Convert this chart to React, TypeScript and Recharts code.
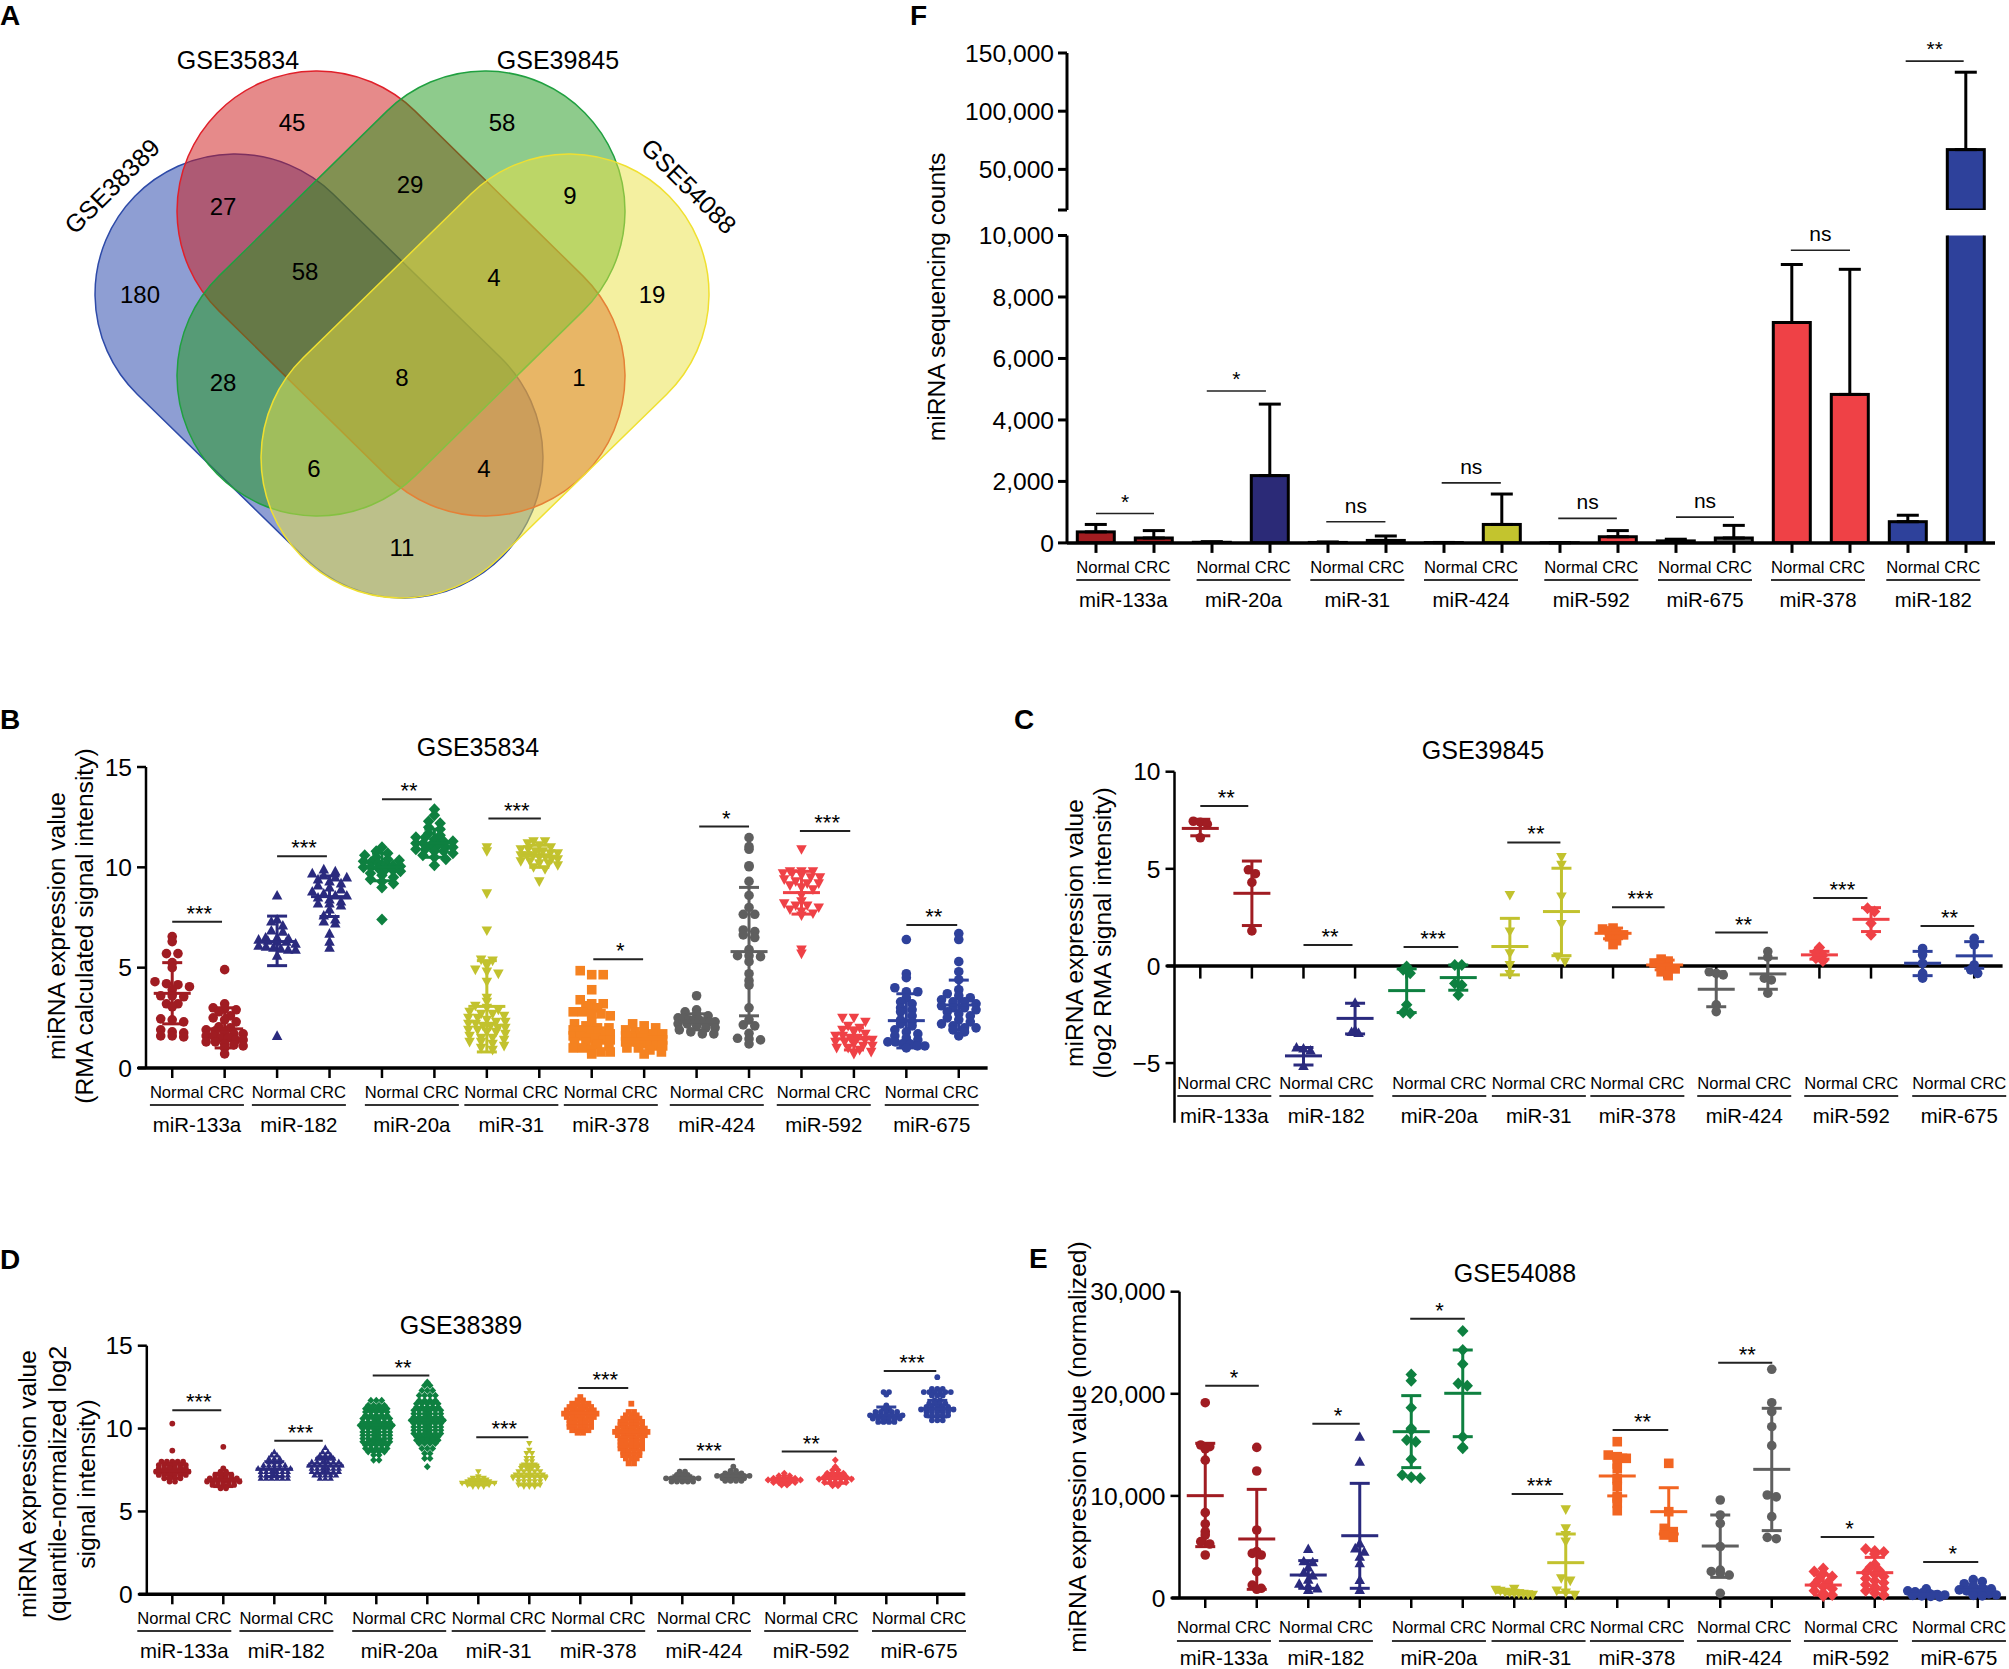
import React from 'react';
import { ScatterChart, ComposedChart, Scatter, Bar, XAxis, YAxis, ErrorBar, ReferenceLine, ReferenceDot } from 'recharts';

const W = 2009;
const H = 1669;
const FONT = '"Liberation Sans", Arial, sans-serif';

// ---------- shared ----------
const GROUPS_A = ['miR-133a', 'miR-182', 'miR-20a', 'miR-31', 'miR-378', 'miR-424', 'miR-592', 'miR-675'];
const GROUPS_F = ['miR-133a', 'miR-20a', 'miR-31', 'miR-424', 'miR-592', 'miR-675', 'miR-378', 'miR-182'];
const POSITIONS = [1, 2, 3, 4, 5, 6, 7, 8, 9, 10, 11, 12, 13, 14, 15, 16];
const COLORS = ['#a01c22', '#2a2a7e', '#0e8040', '#c2c22e', '#f26522', '#5f5f5f', '#ef4146', '#2e419b'];
const COLORS_B = ['#a01c22', '#2a2a7e', '#0e8040', '#c2c22e', '#f58220', '#5f5f5f', '#ef4146', '#2e419b'];
const MARKS_B = ['circle', 'up', 'diamond', 'down', 'square', 'circle', 'down', 'circle'];
const MARKS_OTHER = ['circle', 'up', 'diamond', 'down', 'square', 'circle', 'diamond', 'circle'];

// ---------- panel A ----------
const VENN_NAMES = ['GSE38389', 'GSE35834', 'GSE39845', 'GSE54088'];
const VENN_FILL = ['#1d3da7', '#cd1515', '#1d9719', '#e9e141'];
const VENN_STROKE = ['#2d4aa8', '#e0202a', '#20a040', '#f0e030'];
const VENN_START_X = [235, 317, 485, 569];
const VENN_START_Y = [294, 211, 211, 294];
const VENN_END_X = [403, 485, 317, 401];
const VENN_END_Y = [458, 376, 376, 458];
const VENN_COUNTS = ['45', '58', '27', '29', '9', '180', '58', '4', '19', '28', '8', '1', '6', '4', '11'];
const VENN_COUNT_X = [292, 502, 223, 410, 570, 140, 305, 494, 652, 223, 402, 579, 314, 484, 402];
const VENN_COUNT_Y = [122, 122, 206, 184, 195, 294, 271, 277, 294, 382, 377, 377, 468, 468, 547];

// ---------- panel B ----------
const B_VALUES = [
  [6.55, 6.3, 5.7, 5.7, 5.25, 5.0, 4.3, 4.2, 4.15, 4.05, 3.9, 3.6, 3.6, 3.55, 3.2, 3.2, 3.05, 2.45, 2.4, 2.3, 1.9, 1.8, 1.75, 1.6, 1.6, 1.55],
  [4.9, 3.2, 3.0, 2.95, 2.9, 2.8, 2.6, 2.5, 2.4, 2.3, 2.05, 2.0, 1.9, 1.85, 1.8, 1.7, 1.7, 1.6, 1.6, 1.5, 1.5, 1.4, 1.4, 1.3, 1.3, 1.2, 1.15, 1.1, 1.0, 0.7],
  [8.6, 7.4, 7.3, 7.1, 6.85, 6.8, 6.5, 6.5, 6.45, 6.4, 6.35, 6.3, 6.3, 6.2, 6.1, 6.05, 6.0, 5.95, 5.9, 5.9, 5.6, 1.6],
  [9.9, 9.8, 9.7, 9.6, 9.5, 9.5, 9.4, 9.3, 9.2, 9.1, 9.0, 8.9, 8.8, 8.7, 8.6, 8.6, 8.5, 8.4, 8.3, 8.2, 8.2, 8.1, 7.9, 7.6, 7.4, 7.3, 7.2, 6.7, 6.3, 6.0],
  [11.0, 10.8, 10.7, 10.6, 10.5, 10.4, 10.35, 10.3, 10.25, 10.2, 10.15, 10.1, 10.05, 10.0, 10.0, 9.95, 9.9, 9.85, 9.8, 9.7, 9.6, 9.5, 9.4, 9.3, 9.2, 9.0, 7.4],
  [12.9, 12.6, 12.3, 12.2, 12.0, 11.9, 11.7, 11.6, 11.5, 11.5, 11.4, 11.3, 11.3, 11.2, 11.2, 11.1, 11.1, 11.0, 11.0, 10.9, 10.9, 10.8, 10.8, 10.7, 10.6, 10.5, 10.4, 10.1],
  [11.0, 10.8, 8.7, 6.85, 5.4, 5.35, 5.1, 4.9, 4.8, 4.7, 4.3, 3.5, 3.3, 3.1, 3.0, 2.9, 2.8, 2.7, 2.7, 2.6, 2.5, 2.5, 2.4, 2.3, 2.3, 2.2, 2.2, 2.1, 2.1, 2.0, 2.0, 1.9, 1.9, 1.8, 1.8, 1.7, 1.6, 1.5, 1.5, 1.4, 1.3, 1.3, 1.2, 1.1, 1.0, 0.9],
  [11.3, 11.3, 11.2, 11.1, 11.0, 10.9, 10.9, 10.8, 10.8, 10.7, 10.7, 10.6, 10.6, 10.6, 10.5, 10.5, 10.4, 10.4, 10.3, 10.3, 10.2, 10.2, 10.1, 10.0, 9.9, 9.3],
  [4.85, 4.65, 4.65, 3.9, 3.4, 3.2, 3.2, 3.1, 3.0, 2.8, 2.8, 2.7, 2.7, 2.6, 2.3, 2.2, 2.1, 2.0, 2.0, 1.9, 1.9, 1.9, 1.8, 1.8, 1.7, 1.7, 1.6, 1.6, 1.5, 1.5, 1.4, 1.4, 1.3, 1.3, 1.2, 1.1, 1.0, 1.0, 0.9, 0.8, 0.8, 0.7],
  [2.2, 2.1, 2.0, 1.9, 1.8, 1.8, 1.7, 1.7, 1.6, 1.6, 1.5, 1.5, 1.5, 1.4, 1.4, 1.4, 1.3, 1.3, 1.3, 1.2, 1.2, 1.1, 1.1, 1.0, 1.0, 0.9, 0.8, 0.7],
  [3.6, 2.9, 2.8, 2.7, 2.6, 2.5, 2.5, 2.4, 2.4, 2.4, 2.3, 2.3, 2.3, 2.2, 2.2, 2.1, 2.0, 2.0, 1.9, 1.8, 1.7, 1.7],
  [11.48, 11.03, 10.9, 10.08, 10.03, 9.3, 8.6, 8.0, 7.66, 7.66, 6.88, 6.8, 6.63, 6.5, 5.9, 5.6, 5.6, 5.55, 5.3, 4.7, 4.35, 4.13, 3.0, 2.4, 2.15, 2.1, 1.73, 1.48, 1.45, 1.4, 1.2],
  [10.9, 9.8, 9.8, 9.8, 9.7, 9.7, 9.6, 9.5, 9.5, 9.4, 9.3, 9.2, 9.2, 9.1, 9.0, 8.9, 8.6, 8.3, 8.2, 8.1, 8.1, 8.0, 7.9, 7.8, 7.7, 7.6, 5.9, 5.7],
  [2.5, 2.5, 2.3, 2.1, 2.0, 1.9, 1.8, 1.7, 1.6, 1.6, 1.5, 1.5, 1.4, 1.4, 1.3, 1.3, 1.2, 1.1, 1.1, 1.0, 1.0, 0.9, 0.8, 0.7],
  [6.4, 4.7, 4.5, 4.0, 3.8, 3.8, 3.5, 3.3, 3.2, 3.0, 2.9, 2.8, 2.6, 2.4, 2.3, 2.2, 2.1, 1.9, 1.8, 1.7, 1.6, 1.5, 1.4, 1.3, 1.3, 1.2, 1.2, 1.1, 1.1, 1.0],
  [6.7, 6.4, 5.3, 4.8, 4.4, 3.9, 3.7, 3.6, 3.5, 3.4, 3.3, 3.3, 3.2, 3.1, 3.0, 3.0, 2.9, 2.8, 2.7, 2.6, 2.5, 2.4, 2.3, 2.2, 2.1, 2.0, 2.0, 1.9, 1.8, 1.6],
];
const B_MEAN = [3.72, 1.95, 6.3, 8.54, 10.0, 11.2, 3.07, 10.56, 2.0, 1.45, 2.3, 5.8, 8.74, 1.45, 2.36, 3.14];
const B_HIGH = [5.25, 3.0, 7.57, 9.57, 10.7, 11.9, 5.35, 11.1, 3.0, 1.8, 2.7, 9.0, 9.8, 2.0, 3.7, 4.38];
const B_LOW = [2.2, 1.0, 5.1, 7.55, 9.33, 10.5, 0.8, 10.0, 1.0, 1.1, 1.9, 2.6, 7.67, 0.9, 1.0, 1.9];
const B_SIG_START = [1, 3, 5, 7.03, 9.03, 11.05, 12.97, 15];
const B_SIG_END = [1.95, 3.95, 5.95, 8.03, 9.98, 12, 13.93, 15.97];
const B_SIG_Y = [7.29, 10.55, 13.39, 12.43, 5.42, 12.03, 11.81, 7.13];
const B_SIG_TEXT = ['***', '***', '**', '***', '*', '*', '***', '**'];
const B_SHIFT = [24.7, 21.8, 29.9, 24.5, 19.1, 20.2, 22.3, 25.4];

// ---------- panel C ----------
const C_VALUES = [
  [7.45, 7.4, 7.3, 6.6],
  [4.95, 4.75, 4.3, 1.8],
  [-4.2, -4.25, -4.35, -5.15],
  [-1.9, -3.3, -3.4, -3.45],
  [-0.03, -0.2, -0.38, -2.0, -2.4, -2.43],
  [0.05, 0.05, -0.9, -0.98, -1.5],
  [3.65, 1.77, 0.65, 0.05, -0.42],
  [5.6, 5.2, 3.57, 2.16, 0.48, 0.22],
  [1.95, 1.9, 1.8, 1.7, 1.6, 1.5, 1.3, 1.1],
  [0.35, 0.25, 0.15, 0.05, -0.05, -0.15, -0.3, -0.5],
  [-0.3, -0.38, -0.46, -2.0, -2.35],
  [0.74, 0.45, -0.63, -0.72, -1.4],
  [0.95, 0.7, 0.55, 0.4, 0.25],
  [2.97, 2.8, 2.2, 1.6],
  [0.9, 0.57, 0.14, -0.38, -0.63],
  [1.42, 1.08, 0.05, -0.2, -0.38],
];
const C_MEAN = [7.08, 3.74, -4.63, -2.7, -1.27, -0.6, 1.0, 2.8, 1.68, 0.05, -1.2, -0.41, 0.57, 2.4, 0.14, 0.52];
const C_HIGH = [7.55, 5.4, -4.2, -1.92, -0.15, 0.05, 2.45, 5.03, 1.95, 0.3, -0.3, 0.4, 0.75, 3.0, 0.75, 1.25];
const C_LOW = [6.7, 2.08, -5.1, -3.5, -2.4, -1.25, -0.46, 0.53, 1.4, -0.2, -2.1, -1.2, 0.35, 1.77, -0.5, -0.12];
const C_SIG_START = [1, 3, 4.94, 6.95, 8.98, 10.98, 12.88, 14.96];
const C_SIG_END = [1.93, 3.95, 6, 7.98, 10, 12, 13.93, 16];
const C_SIG_Y = [8.23, 1.08, 0.98, 6.36, 3.02, 1.72, 3.5, 2.06];
const C_SIG_TEXT = ['**', '**', '***', '**', '***', '**', '***', '**'];
const C_SHIFT = [24, 22.9, 32.6, 29, 24.3, 28, 31.8, 36.6];

// ---------- panel D (each row of a swarm: value, number of points) ----------
const D_ROWS = [
  [[10.3, 1], [8.67, 1], [8.0, 5], [7.8, 6], [7.6, 6], [7.4, 7], [7.2, 6], [7.0, 4], [6.8, 2]],
  [[8.9, 1], [7.6, 1], [7.4, 2], [7.2, 4], [7.0, 6], [6.8, 7], [6.6, 5], [6.4, 2]],
  [[8.6, 1], [8.4, 2], [8.2, 3], [8.0, 3], [7.8, 5], [7.6, 7], [7.4, 6], [7.2, 6], [7.0, 6]],
  [[8.85, 1], [8.6, 2], [8.4, 3], [8.2, 4], [8.0, 6], [7.8, 7], [7.6, 6], [7.4, 6], [7.2, 5], [7.0, 3]],
  [[11.7, 3], [11.4, 4], [11.2, 5], [11.0, 5], [10.8, 5], [10.6, 6], [10.4, 6], [10.2, 7], [10.0, 6], [9.8, 6], [9.6, 6], [9.4, 6], [9.2, 6], [9.0, 5], [8.8, 5], [8.6, 4], [8.4, 2], [8.1, 2]],
  [[12.8, 1], [12.6, 2], [12.3, 3], [12.0, 4], [11.7, 4], [11.5, 5], [11.3, 5], [11.1, 6], [10.9, 6], [10.7, 6], [10.5, 7], [10.3, 6], [10.1, 6], [9.9, 6], [9.7, 6], [9.5, 5], [9.3, 5], [9.1, 4], [8.8, 3], [8.5, 2], [8.2, 2], [7.7, 1]],
  [[7.4, 1], [7.1, 1], [7.0, 3], [6.9, 4], [6.8, 5], [6.7, 7], [6.6, 5], [6.5, 3]],
  [[9.1, 1], [8.7, 1], [8.5, 2], [8.2, 2], [8.0, 2], [7.8, 3], [7.6, 4], [7.4, 5], [7.2, 6], [7.0, 7], [6.8, 5], [6.6, 5], [6.5, 3]],
  [[11.9, 1], [11.7, 2], [11.5, 4], [11.3, 5], [11.1, 6], [10.9, 7], [10.7, 6], [10.5, 5], [10.3, 5], [10.1, 5], [9.9, 4], [9.75, 2]],
  [[11.5, 1], [11.0, 2], [10.8, 3], [10.6, 4], [10.4, 5], [10.2, 5], [10.0, 6], [9.8, 7], [9.6, 6], [9.4, 5], [9.2, 5], [9.0, 5], [8.8, 5], [8.6, 4], [8.4, 4], [8.2, 3], [7.9, 2]],
  [[7.4, 2], [7.2, 3], [7.0, 7], [6.8, 5]],
  [[7.7, 1], [7.45, 2], [7.3, 4], [7.15, 7], [7.0, 5], [6.85, 4]],
  [[7.3, 1], [7.15, 3], [7.0, 5], [6.9, 7], [6.75, 5], [6.6, 2]],
  [[8.1, 1], [7.7, 1], [7.5, 2], [7.3, 4], [7.1, 5], [6.95, 7], [6.75, 5], [6.55, 2]],
  [[12.2, 2], [12.05, 1], [11.4, 1], [11.2, 2], [11.0, 5], [10.8, 7], [10.6, 6], [10.4, 4]],
  [[13.1, 1], [12.4, 3], [12.2, 6], [12.0, 3], [11.7, 2], [11.5, 4], [11.3, 5], [11.15, 7], [11.0, 5], [10.8, 5], [10.5, 3]],
];
const D_MEAN = [7.46, 6.9, 7.55, 7.75, 10.2, 10.5, 6.74, 7.15, 10.93, 9.82, 7.0, 7.15, 6.9, 7.0, 10.82, 11.2];
const D_HIGH = [7.9, 7.3, 8.0, 8.2, 11.1, 11.6, 6.9, 7.8, 11.4, 10.6, 7.15, 7.3, 7.0, 7.3, 11.3, 11.7];
const D_LOW = [7.0, 6.5, 7.1, 7.3, 9.3, 9.4, 6.6, 6.6, 10.4, 9.0, 6.85, 7.0, 6.8, 6.7, 10.4, 10.7];
const D_SIG_START = [1, 3, 4.93, 6.96, 8.96, 10.94, 12.95, 14.95];
const D_SIG_END = [1.96, 3.95, 6.04, 7.98, 9.94, 12.03, 14.03, 15.98];
const D_SIG_Y = [11.1, 9.26, 13.2, 9.48, 12.45, 8.15, 8.61, 13.48];
const D_SIG_TEXT = ['***', '***', '**', '***', '***', '***', '**', '***'];
const D_SHIFT = [12, 12.1, 22.9, 20.4, 17.9, 21.7, 26.9, 32.7];

// ---------- panel E ----------
const E_VALUES = [
  [19130, 14985, 14820, 14600, 13500, 8360, 7250, 6500, 6170, 5520, 5290, 4210],
  [14750, 12440, 6660, 4540, 4370, 4210, 2580, 1270, 950, 850],
  [4800, 3600, 3500, 3000, 2500, 2200, 1800, 1400, 1200, 950, 800],
  [15800, 13350, 5350, 4860, 4540, 4050, 3400, 1760, 780],
  [21900, 21280, 18640, 16620, 16450, 15475, 15310, 13580, 12050, 11820, 11720],
  [26150, 24290, 22920, 21000, 20800, 15800, 14760, 14660],
  [900, 800, 700, 600, 550, 500, 450, 400, 350, 300],
  [8680, 6820, 6170, 5520, 1925, 1700, 720, 520, 300],
  [15310, 14000, 13840, 13680, 13120, 12700, 11720, 11560, 10900, 9925, 9760, 9270, 8550],
  [13190, 8455, 6820, 6500, 6170, 5940],
  [9600, 8130, 7310, 5030, 2740, 2600, 2450, 2250, 457],
  [22400, 19130, 18250, 16780, 14920, 10090, 9900, 7970, 5940, 5810],
  [2900, 2600, 2400, 2100, 1800, 1500, 1300, 1100, 900, 700, 500, 300, 200],
  [4800, 4600, 4500, 4300, 3300, 3000, 2700, 2500, 2300, 2100, 1900, 1700, 1500, 1300, 1100, 900, 700, 500, 300],
  [900, 700, 600, 500, 400, 350, 300, 250, 200, 150, 100],
  [1800, 1600, 1400, 1200, 1000, 900, 800, 700, 600, 500, 400, 300, 250, 200],
];
const E_MEAN = [10023, 5780, 2250, 6100, 16290, 20050, 555, 3460, 11950, 8455, 5090, 12600, 1270, 2480, 390, 780];
const E_HIGH = [15150, 10640, 3660, 11230, 19820, 24290, 700, 6270, 14000, 10800, 8130, 18580, 2250, 3980, 600, 1100];
const E_LOW = [5030, 850, 950, 950, 12770, 15800, 400, 555, 10000, 6270, 2020, 6600, 300, 850, 200, 400];
const E_SIG_START = [1, 3.08, 4.98, 6.95, 8.91, 10.96, 12.95, 14.94];
const E_SIG_END = [2.04, 4, 6.04, 7.95, 9.99, 12.01, 13.99, 16.01];
const E_SIG_Y = [20800, 17070, 27360, 10190, 16450, 23050, 5970, 3530];
const E_SIG_TEXT = ['*', '*', '*', '***', '**', '**', '*', '*'];
const E_SHIFT = [18.7, 17.7, 27.7, 24.3, 19.7, 23.7, 27.7, 32.7];

// ---------- panel F ----------
const F_MEAN = [358, 160, 20, 2190, 15, 80, 10, 600, 5, 200, 65, 160, 7170, 4830, 690, 67000];
const F_TOP = [600, 400, 40, 4515, 30, 225, 15, 1590, 10, 400, 120, 570, 9057, 8900, 900, 133500];
const F_FILL = ['#a31d21', '#a31d21', '#2b2a77', '#2b2a77', '#c3c42e', '#c3c42e', '#c3c42e', '#c3c42e', '#ef4146', '#ef4146', '#5f5f5f', '#5f5f5f', '#ef4146', '#ef4146', '#2e419b', '#2e419b'];
const F_SIG_START = [1, 2.91, 4.97, 6.96, 8.97, 11, 12.98];
const F_SIG_END = [2, 3.93, 5.99, 7.98, 9.98, 12, 14];
const F_SIG_Y = [956, 4940, 690, 1952, 797, 837, 9522];
const F_SIG_TEXT = ['*', '*', 'ns', 'ns', 'ns', 'ns', 'ns'];
const F_UPPER_SIG = { start: 14.96, end: 15.96, y: 143000, text: '**' };
const F_SHIFT = [27.3, 31.6, 29.3, 27, 31.3, 29, 26, 25.3];
const F_LOWER_TICKS = [0, 2000, 4000, 6000, 8000, 10000];
const F_UPPER_TICKS = [15100, 50000, 100000, 150000];

// ---------- helpers ----------
const fullPage: React.CSSProperties = { position: 'absolute', left: 0, top: 0 };

function marker(kind: string, cx: number, cy: number, r: number, fill: string) {
  if (kind === 'circle') return <circle cx={cx} cy={cy} r={r} fill={fill} />;
  if (kind === 'square') return <rect x={cx - r} y={cy - r} width={2 * r} height={2 * r} fill={fill} />;
  let d = '';
  if (kind === 'up') d = `M${cx},${cy - r * 1.15}L${cx + r * 1.1},${cy + r * 0.85}L${cx - r * 1.1},${cy + r * 0.85}Z`;
  if (kind === 'down') d = `M${cx},${cy + r * 1.15}L${cx + r * 1.1},${cy - r * 0.85}L${cx - r * 1.1},${cy - r * 0.85}Z`;
  if (kind === 'diamond') d = `M${cx},${cy - r * 1.25}L${cx + r * 1.2},${cy}L${cx},${cy + r * 1.25}L${cx - r * 1.2},${cy}Z`;
  return <path d={d} fill={fill} />;
}

// Side-by-side layout of equal-height points, kept inside the width of the mean bar
function layoutRow(vals: number[], tick: number, stepUnits: number, maxHalf: number) {
  const n = vals.length;
  const step = n > 1 ? Math.min(stepUnits, (2 * maxHalf) / (n - 1)) : 0;
  return vals.map((y, i) => ({ x: tick + (i - (n - 1) / 2) * step, y }));
}
function swarmFromValues(values: number[], tick: number, bin: number, stepUnits: number, maxHalf: number) {
  const rows = new Map<number, number[]>();
  values.forEach((v) => {
    const k = Math.round(v / bin);
    if (!rows.has(k)) rows.set(k, []);
    rows.get(k)!.push(v);
  });
  return Array.from(rows.values()).flatMap((r) => layoutRow(r, tick, stepUnits, maxHalf));
}
function swarmFromRows(rows: number[][], tick: number, stepUnits: number, maxHalf: number) {
  return rows.flatMap(([v, n]) => layoutRow(new Array(n).fill(v), tick, stepUnits, maxHalf));
}

function GroupTick(props: any) {
  const { x, payload, cfg } = props;
  const idx = Math.round(payload.value);
  if (idx % 2 === 0) return <g />;
  const g = (idx - 1) / 2;
  const cx = x + cfg.shift[g];
  return (
    <g>
      <text x={cx} y={cfg.labelY} textAnchor="middle" dominantBaseline="central" fontFamily={FONT} fontSize={16.6} fill="#000">Normal CRC</text>
      <line x1={cx - 47} x2={cx + 47} y1={cfg.lineY} y2={cfg.lineY} stroke="#333" strokeWidth={1.8} />
      <text x={cx} y={cfg.groupY} textAnchor="middle" dominantBaseline="central" fontFamily={FONT} fontSize={20.4} fill="#000">{cfg.groups[g]}</text>
    </g>
  );
}

function rotated(lines: { t: string; x: number; y: number }[]) {
  return lines.map((l) => (
    <text key={l.t} x={l.x} y={l.y} transform={`rotate(-90 ${l.x} ${l.y})`} textAnchor="middle" dominantBaseline="central" fontFamily={FONT} fontSize={24.6} fill="#000">{l.t}</text>
  ));
}

function plain(t: string, x: number, y: number, size = 25, weight: any = 'normal', anchor: any = 'middle') {
  return <text key={t} x={x} y={y} textAnchor={anchor} dominantBaseline="central" fontFamily={FONT} fontSize={size} fontWeight={weight} fill="#000">{t}</text>;
}

function sigLabel(label: string, x: number, y: number, size: number, lift: number, key: string) {
  return (
    <ReferenceDot key={key} x={x} y={y} r={0} ifOverflow="visible"
      shape={(p: any) => <text x={p.cx} y={p.cy - lift} textAnchor="middle" fontFamily={FONT} fontSize={size} fill="#000">{label}</text>} />
  );
}

function swarmPanel(cfg: any) {
  const spacing = (cfg.right - cfg.left) / 16;
  const stepUnits = cfg.stepPx / spacing;
  const maxHalf = 18.5 / spacing;
  const chartMargin = { left: cfg.left - 60, right: W - cfg.right, top: cfg.top, bottom: H - cfg.bottom - 30 };
  const colorOf = (i: number) => cfg.colors[Math.floor(i / 2)];
  const markOf = (i: number) => cfg.marks[Math.floor(i / 2)];
  const extendLeft = 0.5 - 8 / spacing;
  return (
    <ScatterChart width={W} height={H} margin={chartMargin} style={fullPage}>
      <XAxis type="number" dataKey="x" domain={[0.5, 16.5]} ticks={POSITIONS} interval={0} height={30}
        tick={(p: any) => <GroupTick {...p} cfg={cfg} />} axisLine={false}
        tickLine={cfg.zeroInside ? false : { stroke: '#000', strokeWidth: 2.5 }} tickSize={10} />
      <YAxis type="number" dataKey="y" domain={cfg.domain} ticks={cfg.yTicks} interval={0} width={60}
        axisLine={{ stroke: '#000', strokeWidth: 2.5 }} tickLine={{ stroke: '#000', strokeWidth: 2.5 }} tickSize={9} tickMargin={5}
        tick={{ fontSize: 24.6, fontFamily: FONT, fill: '#000' }} tickFormatter={cfg.format} />
      <ReferenceLine segment={[{ x: extendLeft, y: cfg.zeroAt }, { x: 16.55, y: cfg.zeroAt }]} stroke="#000" strokeWidth={3.5} ifOverflow="visible" />
      {cfg.zeroInside && POSITIONS.map((t) => (
        <ReferenceLine key={t} segment={[{ x: t, y: 0 }, { x: t, y: cfg.zeroTickEnd }]} stroke="#000" strokeWidth={2.5} ifOverflow="visible" />
      ))}
      {POSITIONS.map((t, i) => (
        <Scatter key={`p${t}`} isAnimationActive={false}
          data={cfg.points(i, t, stepUnits, maxHalf)}
          shape={(p: any) => marker(markOf(i), p.cx, p.cy, cfg.r, colorOf(i))} />
      ))}
      {POSITIONS.map((t, i) => (
        <Scatter key={`m${t}`} isAnimationActive={false}
          data={[{ x: t, y: cfg.mean[i], err: [cfg.mean[i] - cfg.low[i], cfg.high[i] - cfg.mean[i]] }]}
          shape={(p: any) => <rect x={p.cx - 18.5} y={p.cy - 1.5} width={37} height={3} fill={colorOf(i)} />}>
          <ErrorBar dataKey="err" direction="y" width={10} strokeWidth={3} stroke={colorOf(i)} isAnimationActive={false} />
        </Scatter>
      ))}
      {cfg.sigStart.map((s: number, i: number) => (
        <ReferenceLine key={`s${i}`} segment={[{ x: s, y: cfg.sigY[i] }, { x: cfg.sigEnd[i], y: cfg.sigY[i] }]} stroke="#222" strokeWidth={2} ifOverflow="visible" />
      ))}
      {cfg.sigStart.map((s: number, i: number) => sigLabel(cfg.sigText[i], (s + cfg.sigEnd[i]) / 2 + 0.04, cfg.sigY[i], 22, 1, `t${i}`))}
      {plain(cfg.title, cfg.titleX, cfg.titleY)}
      {rotated(cfg.yLabels)}
      {plain(cfg.letter, cfg.letterX, cfg.letterY, 28, 'bold', 'start')}
    </ScatterChart>
  );
}

const axisFormat = (v: number) => String(v).replace('-', '\u2212');
const thousands = (v: number) => v.toLocaleString('en-US');

const PANEL_B = {
  title: 'GSE35834', titleX: 478, titleY: 747, letter: 'B', letterX: 0, letterY: 719,
  yLabels: [{ t: 'miRNA expression value', x: 56, y: 926 }, { t: '(RMA calculated signal intensity)', x: 84, y: 926 }],
  left: 146, right: 985, top: 767, bottom: 1068, domain: [0, 15], yTicks: [0, 5, 10, 15], zeroAt: 0,
  labelY: 1092, lineY: 1105, groupY: 1125, shift: B_SHIFT, groups: GROUPS_A, colors: COLORS_B, marks: MARKS_B,
  r: 4.8, stepPx: 11.5, mean: B_MEAN, high: B_HIGH, low: B_LOW,
  sigStart: B_SIG_START, sigEnd: B_SIG_END, sigY: B_SIG_Y, sigText: B_SIG_TEXT, format: axisFormat,
  points: (i: number, t: number, s: number, m: number) => swarmFromValues(B_VALUES[i], t, 0.3, s, m),
};
const PANEL_C = {
  title: 'GSE39845', titleX: 1483, titleY: 750, letter: 'C', letterX: 1014, letterY: 719,
  yLabels: [{ t: 'miRNA expression value', x: 1074, y: 933 }, { t: '(log2 RMA signal intensity)', x: 1102, y: 933 }],
  left: 1174.5, right: 2000, top: 771.7, bottom: 1122.7, domain: [-8.07, 10], yTicks: [-5, 0, 5, 10], zeroAt: 0, zeroInside: true, zeroTickEnd: -0.65,
  labelY: 1083, lineY: 1096, groupY: 1116, shift: C_SHIFT, groups: GROUPS_A, colors: COLORS, marks: MARKS_OTHER,
  r: 4.8, stepPx: 7, mean: C_MEAN, high: C_HIGH, low: C_LOW,
  sigStart: C_SIG_START, sigEnd: C_SIG_END, sigY: C_SIG_Y, sigText: C_SIG_TEXT, format: axisFormat,
  points: (i: number, t: number, s: number, m: number) => swarmFromValues(C_VALUES[i], t, 0.35, s, m),
};
const PANEL_D = {
  title: 'GSE38389', titleX: 461, titleY: 1325, letter: 'D', letterX: 0, letterY: 1259,
  yLabels: [{ t: 'miRNA expression value', x: 27, y: 1484 }, { t: '(quantile-normalized log2', x: 57, y: 1484 }, { t: 'signal intensity)', x: 86, y: 1484 }],
  left: 146.8, right: 962.8, top: 1345.7, bottom: 1594.3, domain: [0, 15], yTicks: [0, 5, 10, 15], zeroAt: 0,
  labelY: 1618, lineY: 1631, groupY: 1651, shift: D_SHIFT, groups: GROUPS_A, colors: COLORS, marks: MARKS_OTHER,
  r: 2.9, stepPx: 5.4, mean: D_MEAN, high: D_HIGH, low: D_LOW,
  sigStart: D_SIG_START, sigEnd: D_SIG_END, sigY: D_SIG_Y, sigText: D_SIG_TEXT, format: axisFormat,
  points: (i: number, t: number, s: number, m: number) => swarmFromRows(D_ROWS[i], t, s, m),
};
const PANEL_E = {
  title: 'GSE54088', titleX: 1515, titleY: 1273, letter: 'E', letterX: 1029, letterY: 1258,
  yLabels: [{ t: 'miRNA expression value (normalized)', x: 1077, y: 1447 }],
  left: 1179.5, right: 2003.5, top: 1291.7, bottom: 1598, domain: [0, 30000], yTicks: [0, 10000, 20000, 30000], zeroAt: 0,
  labelY: 1627, lineY: 1641, groupY: 1657.5, shift: E_SHIFT, groups: GROUPS_A, colors: COLORS, marks: MARKS_OTHER,
  r: 4.8, stepPx: 9, mean: E_MEAN, high: E_HIGH, low: E_LOW,
  sigStart: E_SIG_START, sigEnd: E_SIG_END, sigY: E_SIG_Y, sigText: E_SIG_TEXT, format: thousands,
  points: (i: number, t: number, s: number, m: number) => swarmFromValues(E_VALUES[i], t, 600, s, m),
};

const F_TABLE = POSITIONS.map((x, i) => ({
  x,
  lower: F_MEAN[i],
  upper: F_MEAN[i] > 10000 ? F_MEAN[i] : null,
  errLower: F_MEAN[i] > 10000 ? null : [0, F_TOP[i] - F_MEAN[i]],
  errUpper: F_MEAN[i] > 10000 ? [0, F_TOP[i] - F_MEAN[i]] : null,
}));

const F_LEFT = 1067;
const F_RIGHT = 1995;
const F_CFG = { shift: F_SHIFT, labelY: 567, lineY: 580, groupY: 600, groups: GROUPS_F };

const fBar = (p: any) => {
  if (!p.height && p.height !== 0) return <g />;
  const i = Math.round(p.payload.x) - 1;
  return <rect x={p.x + p.width / 2 - 18.5} y={p.y} width={37} height={Math.max(p.height, 0)} fill={F_FILL[i]} stroke="#000" strokeWidth={3} />;
};

function PanelF() {
  const lift = (s: string) => (s === 'ns' ? 9 : 5);
  return (
    <>
      <ComposedChart width={W} height={H} data={F_TABLE} style={fullPage}
        margin={{ left: F_LEFT - 60, right: W - F_RIGHT, top: 235.5, bottom: H - 542.9 - 30 }}>
        <XAxis type="number" dataKey="x" domain={[0.5, 16.5]} ticks={POSITIONS} interval={0} height={30}
          tick={(p: any) => <GroupTick {...p} cfg={F_CFG} />} axisLine={{ stroke: '#000', strokeWidth: 3.5 }}
          tickLine={{ stroke: '#000', strokeWidth: 3 }} tickSize={10} />
        <YAxis type="number" domain={[0, 10000]} ticks={F_LOWER_TICKS} interval={0} width={60} allowDataOverflow
          axisLine={{ stroke: '#000', strokeWidth: 3 }} tickLine={{ stroke: '#000', strokeWidth: 3 }} tickSize={9} tickMargin={4}
          tick={{ fontSize: 24.6, fontFamily: FONT, fill: '#000' }} tickFormatter={thousands} />
        <Bar dataKey="lower" shape={fBar} isAnimationActive={false}>
          <ErrorBar dataKey="errLower" direction="y" width={11} stroke="#000" strokeWidth={3} isAnimationActive={false} />
        </Bar>
        {F_SIG_START.map((s, i) => (
          <ReferenceLine key={i} segment={[{ x: s, y: F_SIG_Y[i] }, { x: F_SIG_END[i], y: F_SIG_Y[i] }]} stroke="#222" strokeWidth={1.6} ifOverflow="visible" />
        ))}
        {F_SIG_START.map((s, i) => sigLabel(F_SIG_TEXT[i], (s + F_SIG_END[i]) / 2, F_SIG_Y[i], 21, lift(F_SIG_TEXT[i]), `f${i}`))}
        {rotated([{ t: 'miRNA sequencing counts', x: 936, y: 297 }])}
        {plain('F', 910, 15, 28, 'bold', 'start')}
      </ComposedChart>
      <ComposedChart width={W} height={H} data={F_TABLE} style={fullPage}
        margin={{ left: F_LEFT - 60, right: W - F_RIGHT, top: 53, bottom: H - 210 }}>
        <XAxis type="number" dataKey="x" domain={[0.5, 16.5]} hide />
        <YAxis type="number" domain={[15100, 150000]} ticks={F_UPPER_TICKS} interval={0} width={60} allowDataOverflow
          axisLine={{ stroke: '#000', strokeWidth: 3 }} tickLine={{ stroke: '#000', strokeWidth: 3 }} tickSize={9} tickMargin={4}
          tick={{ fontSize: 24.6, fontFamily: FONT, fill: '#000' }}
          tickFormatter={(v: number) => (v < 50000 ? '' : thousands(v))} />
        <Bar dataKey="upper" shape={fBar} isAnimationActive={false}>
          <ErrorBar dataKey="errUpper" direction="y" width={11} stroke="#000" strokeWidth={3} isAnimationActive={false} />
        </Bar>
        <ReferenceLine segment={[{ x: F_UPPER_SIG.start, y: F_UPPER_SIG.y }, { x: F_UPPER_SIG.end, y: F_UPPER_SIG.y }]} stroke="#222" strokeWidth={1.6} ifOverflow="visible" />
        {sigLabel(F_UPPER_SIG.text, (F_UPPER_SIG.start + F_UPPER_SIG.end) / 2, F_UPPER_SIG.y, 21, 5, 'fu')}
      </ComposedChart>
    </>
  );
}

function PanelA() {
  const r = 140;
  const capsule = (i: number) => (p: any) => {
    const dx = VENN_END_X[i] - VENN_START_X[i];
    const dy = VENN_END_Y[i] - VENN_START_Y[i];
    const len = Math.hypot(dx, dy);
    const nx = (-dy / len) * r;
    const ny = (dx / len) * r;
    const sx = p.cx;
    const sy = p.cy;
    const d = `M${sx + nx},${sy + ny}A${r},${r} 0 0 1 ${sx - nx},${sy - ny}L${sx + dx - nx},${sy + dy - ny}A${r},${r} 0 0 1 ${sx + dx + nx},${sy + dy + ny}Z`;
    return <path d={d} fill={VENN_FILL[i]} fillOpacity={0.5} stroke={VENN_STROKE[i]} strokeWidth={1.5} />;
  };
  return (
    <ScatterChart width={W} height={H} margin={{ left: 0, right: 0, top: 0, bottom: 0 }} style={fullPage}>
      <XAxis type="number" dataKey="x" domain={[0, W]} hide />
      <YAxis type="number" dataKey="y" domain={[0, H]} reversed hide />
      {VENN_NAMES.map((n, i) => (
        <Scatter key={n} name={n} isAnimationActive={false}
          data={[{ x: VENN_START_X[i], y: VENN_START_Y[i] }]} shape={capsule(i)} />
      ))}
      <Scatter isAnimationActive={false}
        data={VENN_COUNTS.map((c, i) => ({ x: VENN_COUNT_X[i], y: VENN_COUNT_Y[i], label: c }))}
        shape={(p: any) => <text x={p.cx} y={p.cy} textAnchor="middle" dominantBaseline="central" fontFamily={FONT} fontSize={24} fill="#000">{p.payload.label}</text>} />
      {plain('GSE35834', 238, 60)}
      {plain('GSE39845', 558, 60)}
      <text x={112} y={186} transform="rotate(-45 112 186)" textAnchor="middle" dominantBaseline="central" fontFamily={FONT} fontSize={25} fill="#000">GSE38389</text>
      <text x={689} y={186} transform="rotate(45 689 186)" textAnchor="middle" dominantBaseline="central" fontFamily={FONT} fontSize={25} fill="#000">GSE54088</text>
      {plain('A', 0, 15, 28, 'bold', 'start')}
    </ScatterChart>
  );
}

export default function App() {
  return (
    <div style={{ position: 'absolute', left: 0, top: 0, width: W, height: H, background: '#fff', overflow: 'hidden' }}>
      <PanelA />
      <PanelF />
      {swarmPanel(PANEL_B)}
      {swarmPanel(PANEL_C)}
      {swarmPanel(PANEL_D)}
      {swarmPanel(PANEL_E)}
    </div>
  );
}
